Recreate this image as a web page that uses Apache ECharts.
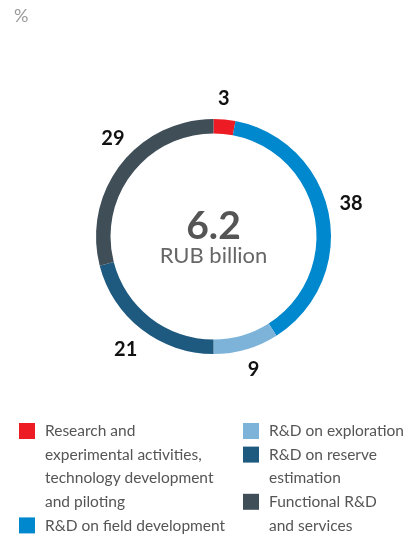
<!DOCTYPE html>
<html>
<head>
<meta charset="utf-8">
<style>
  html, body { margin: 0; padding: 0; background: #ffffff; }
  #chart { width: 417px; height: 536px; }
</style>
<script src="https://cdn.jsdelivr.net/npm/echarts@6/dist/echarts.min.js"></script>
</head>
<body>
<div id="chart"></div>
<script>
// R&D spending structure, %
const categories = [
  'Research and\nexperimental activities,\ntechnology development\nand piloting',
  'R&D on field development',
  'R&D on exploration',
  'R&D on reserve\nestimation',
  'Functional R&D\nand services'
];
const shares = [3, 38, 9, 21, 29];
const colors = ['#ED1C24', '#0088CE', '#7DB3D9', '#1E5A80', '#404E58'];
const totalValue = '6.2';
const totalUnit = 'RUB billion';
const unitLabel = '%';

// layout settings
const legendColumn = [0, 0, 1, 1, 1];
const labelNudge = [[-3, 1], [0, -7], [1, -1], [-2, 2], [10, -12]];

const FONT = 'Lato, "Open Sans", sans-serif';
const chart = echarts.init(document.getElementById('chart'), null, { renderer: 'canvas' });

const pieData = categories.map((name, i) => ({
  name: name,
  value: shares[i],
  itemStyle: { color: colors[i] }
}));

// Legend built from the category list
const legendGraphics = [];
const colX = [19, 243];
const colY = [423, 423];
const lineH = 23.6;
categories.forEach((name, i) => {
  const c = legendColumn[i];
  const y = colY[c];
  legendGraphics.push({
    type: 'rect',
    left: colX[c], top: y,
    shape: { width: 16, height: 16 },
    style: { fill: colors[i] }
  });
  legendGraphics.push({
    type: 'text',
    left: colX[c] + 26, top: y - 3.6,
    style: {
      text: name,
      font: '15.5px ' + FONT,
      fill: '#555555',
      lineHeight: lineH
    }
  });
  colY[c] += name.split('\n').length * lineH;
});

chart.setOption({
  animation: false,
  graphic: [
    {
      type: 'text', left: 14, top: 7,
      style: { text: unitLabel, font: '18px ' + FONT, fill: '#999999' }
    },
    {
      type: 'text', x: 213.5, y: 226,
      style: {
        text: totalValue, font: 'bold 39px ' + FONT, fill: '#555555',
        align: 'center', verticalAlign: 'middle'
      }
    },
    {
      type: 'text', x: 213.5, y: 256,
      style: {
        text: totalUnit, font: '22px ' + FONT, fill: '#666666',
        align: 'center', verticalAlign: 'middle'
      }
    }
  ].concat(legendGraphics),
  series: [
    {
      type: 'pie',
      center: [213.5, 236.5],
      radius: [103, 117.5],
      startAngle: 90,
      clockwise: true,
      silent: true,
      label: { show: false },
      labelLine: { show: false },
      data: pieData
    },
    {
      // value labels around the ring
      type: 'pie',
      center: [213.5, 236.5],
      radius: [128, 146],
      startAngle: 90,
      clockwise: true,
      silent: true,
      itemStyle: { color: 'rgba(0,0,0,0)' },
      label: {
        show: true,
        position: 'inside',
        formatter: '{c}',
        color: '#111111',
        fontFamily: FONT,
        fontWeight: 'bold',
        fontSize: 20
      },
      labelLine: { show: false },
      data: shares.map((v, i) => ({
        name: categories[i],
        value: v,
        label: { offset: labelNudge[i] }
      }))
    }
  ]
});
</script>
</body>
</html>
